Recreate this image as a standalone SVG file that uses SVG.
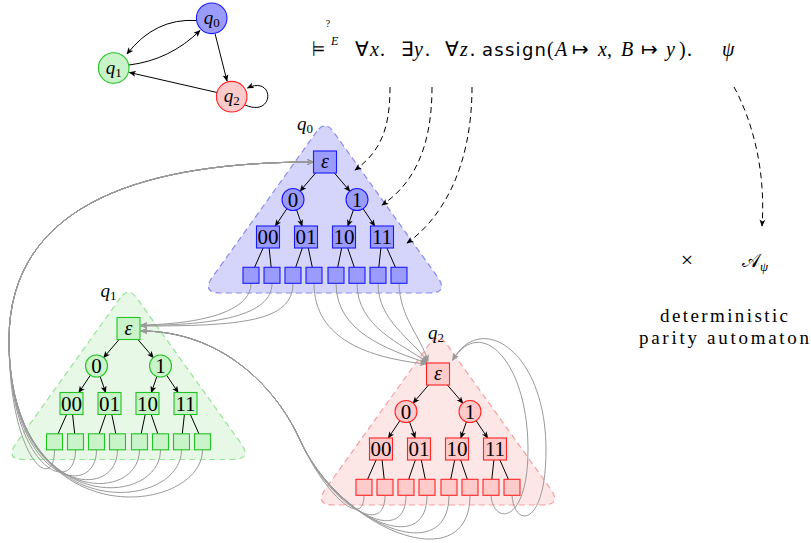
<svg xmlns="http://www.w3.org/2000/svg" width="811" height="543" viewBox="0 0 811 543">
<style>
text{font-family:"Liberation Serif","DejaVu Sans",serif;fill:#000}
.it{font-style:italic}
.lbl{font-size:21px;text-anchor:middle}
.eps{font-size:20px;font-style:italic;text-anchor:middle}
.ql{font-size:19px}
.tb{fill:#d5d5fb;stroke:#8b8bf0;stroke-width:1.2;stroke-dasharray:6 4}
.tg{fill:#e7f8e7;stroke:#98e498;stroke-width:1.2;stroke-dasharray:6 4}
.tr{fill:#fde6e6;stroke:#f7a0a0;stroke-width:1.2;stroke-dasharray:6 4}
.nb{fill:#9b9bfb;stroke:#1a1aff;stroke-width:1.1}
.ng{fill:#c9f3c9;stroke:#22c422;stroke-width:1.1}
.nr{fill:#ffcaca;stroke:#ff2424;stroke-width:1.1}
.edge{fill:none;stroke:#000;stroke-width:1;marker-end:url(#ah)}
.plain{fill:none;stroke:#000;stroke-width:1}
.gray{fill:none;stroke:#999;stroke-width:1;marker-end:url(#ahg)}
.dash{fill:none;stroke:#000;stroke-width:1;stroke-dasharray:6 4;marker-end:url(#ah)}
</style>
<defs>
<marker id="ah" viewBox="0 0 10 10" refX="9" refY="5" markerWidth="7" markerHeight="7" markerUnits="userSpaceOnUse" orient="auto"><path d="M0,0.8 L10,5 L0,9.2 L2.5,5 Z" fill="#000"/></marker>
<marker id="ahg" viewBox="0 0 10 10" refX="9" refY="5" markerWidth="7" markerHeight="7" markerUnits="userSpaceOnUse" orient="auto"><path d="M0,0.8 L10,5 L0,9.2 L2.5,5 Z" fill="#999"/></marker>
</defs>

<!-- regions -->
<g id="region-q0" transform="translate(325,162)">
<path class="tb" d="M -8.16,-30.62 L -112.35,114.74 Q -124,131 -104,131 L 104,131 Q 124,131 112.35,114.74 L 8.16,-30.62 Q 0,-42 -8.16,-30.62 Z"/>
<text class="ql" x="-28" y="-32"><tspan class="it">q</tspan><tspan font-size="13" dy="3">0</tspan></text>
</g>
<g id="region-q1" transform="translate(128.5,328.5)">
<path class="tg" d="M -8.16,-30.62 L -112.35,114.74 Q -124,131 -104,131 L 104,131 Q 124,131 112.35,114.74 L 8.16,-30.62 Q 0,-42 -8.16,-30.62 Z"/>
<text class="ql" x="-28" y="-32"><tspan class="it">q</tspan><tspan font-size="13" dy="3">1</tspan></text>
</g>
<g id="region-q2" transform="translate(438,374)">
<path class="tr" d="M -8.16,-30.62 L -112.35,114.74 Q -124,131 -104,131 L 104,131 Q 124,131 112.35,114.74 L 8.16,-30.62 Q 0,-42 -8.16,-30.62 Z"/>
<text class="ql" x="-10" y="-35"><tspan class="it">q</tspan><tspan font-size="13" dy="3">2</tspan></text>
</g>

<!-- connectors -->
<g id="connectors">
<path class="edge" d="M 196,20.5 Q 155,18 127,54"/>
<path class="edge" d="M 129,65 Q 170,60 200,30.5"/>
<path class="edge" d="M 215,33.5 L 227,81"/>
<path class="edge" d="M 217,92.5 L 129.5,72.5"/>
<path class="edge" d="M 245,105 C 275,118 275,75 247.5,88"/>
<path class="dash" d="M 390,87 C 390,130 380,152 355,170"/>
<path class="dash" d="M 432,87 C 432,150 412,185 382,205"/>
<path class="dash" d="M 472,87 C 472,170 440,220 407,243"/>
<path class="dash" d="M 734,87 C 752,120 766,170 762,226"/>
<g transform="translate(325,162)">
<path class="edge" d="M -9.4,11 L -24.9,29.1"/><path class="edge" d="M 9.4,11 L 24.9,29.1"/>
<path class="edge" d="M -38.1,46.7 L -49.7,64"/><path class="edge" d="M -28.4,47.9 L -22.8,64"/>
<path class="edge" d="M 28.4,47.9 L 22.8,64"/><path class="edge" d="M 38.1,46.7 L 49.7,64"/>
<path class="plain" d="M -61.9,86 L -70.4,105.3 M -55.9,86 L -53.8,105.3 M -22.7,86 L -29.3,105.3 M -16.7,86 L -12.7,105.3 M 16.7,86 L 12.7,105.3 M 22.7,86 L 29.3,105.3 M 55.9,86 L 53.8,105.3 M 61.9,86 L 70.4,105.3"/>
</g>
<g transform="translate(128.5,328.5)">
<path class="edge" d="M -9.4,11 L -24.9,29.1"/><path class="edge" d="M 9.4,11 L 24.9,29.1"/>
<path class="edge" d="M -38.1,46.7 L -49.7,64"/><path class="edge" d="M -28.4,47.9 L -22.8,64"/>
<path class="edge" d="M 28.4,47.9 L 22.8,64"/><path class="edge" d="M 38.1,46.7 L 49.7,64"/>
<path class="plain" d="M -61.9,86 L -70.4,105.3 M -55.9,86 L -53.8,105.3 M -22.7,86 L -29.3,105.3 M -16.7,86 L -12.7,105.3 M 16.7,86 L 12.7,105.3 M 22.7,86 L 29.3,105.3 M 55.9,86 L 53.8,105.3 M 61.9,86 L 70.4,105.3"/>
</g>
<g transform="translate(438,374)">
<path class="edge" d="M -9.4,11 L -24.9,29.1"/><path class="edge" d="M 9.4,11 L 24.9,29.1"/>
<path class="edge" d="M -38.1,46.7 L -49.7,64"/><path class="edge" d="M -28.4,47.9 L -22.8,64"/>
<path class="edge" d="M 28.4,47.9 L 22.8,64"/><path class="edge" d="M 38.1,46.7 L 49.7,64"/>
<path class="plain" d="M -61.9,86 L -70.4,105.3 M -55.9,86 L -53.8,105.3 M -22.7,86 L -29.3,105.3 M -16.7,86 L -12.7,105.3 M 16.7,86 L 12.7,105.3 M 22.7,86 L 29.3,105.3 M 55.9,86 L 53.8,105.3 M 61.9,86 L 70.4,105.3"/>
</g>
<path class="gray" d="M 251,283.3 C 251,312 200,324 141,325"/>
<path class="gray" d="M 272,283.3 C 272,316 215,325 141,325.5"/>
<path class="gray" d="M 293,283.3 C 293,322 240,326 141,326"/>
<path class="gray" d="M 314,283.3 C 314,340 370,358 426,364"/>
<path class="gray" d="M 336,283.3 C 336,333 390,350 426.5,363"/>
<path class="gray" d="M 357,283.3 C 357,327 402,344 427,362"/>
<path class="gray" d="M 378,283.3 C 378,321 412,339 427.5,361.5"/>
<path class="gray" d="M 399,283.3 C 400,318 420,335 428,361"/>
<path class="gray" d="M 54.5,449.8 C 54.5,495 9,460 9,340 C 9,200 150,162 313.5,162"/>
<path class="gray" d="M 75.5,449.8 C 75.5,498 9,471 9,340 C 9,200 150,162 313.5,162"/>
<path class="gray" d="M 96.5,449.8 C 96.5,501 9,483 9,340 C 9,200 150,162 313.5,162"/>
<path class="gray" d="M 117.5,449.8 C 117.5,504 9,494 9,340 C 9,200 150,162 313.5,162"/>
<path class="gray" d="M 139.5,449.8 C 139.5,506 9,506 9,340 C 9,200 150,162 313.5,162"/>
<path class="gray" d="M 160.5,449.8 C 160.5,509 9,517 9,340 C 9,200 150,162 313.5,162"/>
<path class="gray" d="M 181.5,449.8 C 181.5,512 9,529 9,340 C 9,200 150,162 313.5,162"/>
<path class="gray" d="M 202.5,449.8 C 202.5,515 9,540 9,340 C 9,200 150,162 313.5,162"/>
<path class="gray" d="M 364,495.3 C 364,530 324.8,494.7 300,440 C 275,385 220,331 141,331"/>
<path class="gray" d="M 385,495.3 C 385,540 328.2,501.9 300,440 C 275,385 220,331 141,331"/>
<path class="gray" d="M 406,495.3 C 406,550 331.5,509.2 300,440 C 275,385 220,331 141,331"/>
<path class="gray" d="M 427,495.3 C 427,560 334.8,516.5 300,440 C 275,385 220,331 141,331"/>
<path class="gray" d="M 449,495.3 C 449,570 338.1,523.8 300,440 C 275,385 220,331 141,331"/>
<path class="gray" d="M 470,495.3 C 470,580 341.4,531.1 300,440 C 275,385 220,331 141,331"/>
<path class="gray" d="M 491,495.3 C 493,525 528,525 528,450 C 528,360 480,315 453,360"/>
<path class="gray" d="M 512,495.3 C 514,528 546,528 546,450 C 546,350 480,310 452.5,360.5"/>
</g>

<!-- automaton nodes -->
<g id="aut-q0"><circle cx="211.7" cy="18.3" r="15.3" class="nb"/><text class="ql" x="211.7" y="24" text-anchor="middle"><tspan class="it">q</tspan><tspan font-size="13" dy="3">0</tspan></text></g>
<g id="aut-q1"><circle cx="113.7" cy="68" r="15.3" class="ng"/><text class="ql" x="113.7" y="73.5" text-anchor="middle"><tspan class="it">q</tspan><tspan font-size="13" dy="3">1</tspan></text></g>
<g id="aut-q2"><circle cx="231.7" cy="96.7" r="15.3" class="nr"/><text class="ql" x="231.7" y="102" text-anchor="middle"><tspan class="it">q</tspan><tspan font-size="13" dy="3">2</tspan></text></g>

<!-- tree q0 nodes -->
<g id="tree-q0" transform="translate(325,162)">
<g id="q0-eps"><rect x="-11.5" y="-11" width="23" height="22" class="nb"/><text class="eps" x="0" y="6">ε</text></g>
<g id="q0-0"><circle cx="-32" cy="37.5" r="11" class="nb"/><text class="lbl" x="-32" y="44.5">0</text></g>
<g id="q0-1"><circle cx="32" cy="37.5" r="11" class="nb"/><text class="lbl" x="32" y="44.5">1</text></g>
<g id="q0-00"><rect x="-68.5" y="64" width="23" height="22" class="nb"/><text class="lbl" x="-57" y="82">00</text></g>
<g id="q0-01"><rect x="-30.5" y="64" width="23" height="22" class="nb"/><text class="lbl" x="-19" y="82">01</text></g>
<g id="q0-10"><rect x="7.5" y="64" width="23" height="22" class="nb"/><text class="lbl" x="19" y="82">10</text></g>
<g id="q0-11"><rect x="45.5" y="64" width="23" height="22" class="nb"/><text class="lbl" x="57" y="82">11</text></g>
<g id="q0-000"><rect x="-82" y="105.3" width="16" height="16" class="nb"/></g>
<g id="q0-001"><rect x="-61" y="105.3" width="16" height="16" class="nb"/></g>
<g id="q0-010"><rect x="-40" y="105.3" width="16" height="16" class="nb"/></g>
<g id="q0-011"><rect x="-19" y="105.3" width="16" height="16" class="nb"/></g>
<g id="q0-100"><rect x="3" y="105.3" width="16" height="16" class="nb"/></g>
<g id="q0-101"><rect x="24" y="105.3" width="16" height="16" class="nb"/></g>
<g id="q0-110"><rect x="45" y="105.3" width="16" height="16" class="nb"/></g>
<g id="q0-111"><rect x="66" y="105.3" width="16" height="16" class="nb"/></g>
</g>

<!-- tree q1 nodes -->
<g id="tree-q1" transform="translate(128.5,328.5)">
<g id="q1-eps"><rect x="-11.5" y="-11" width="23" height="22" class="ng"/><text class="eps" x="0" y="6">ε</text></g>
<g id="q1-0"><circle cx="-32" cy="37.5" r="11" class="ng"/><text class="lbl" x="-32" y="44.5">0</text></g>
<g id="q1-1"><circle cx="32" cy="37.5" r="11" class="ng"/><text class="lbl" x="32" y="44.5">1</text></g>
<g id="q1-00"><rect x="-68.5" y="64" width="23" height="22" class="ng"/><text class="lbl" x="-57" y="82">00</text></g>
<g id="q1-01"><rect x="-30.5" y="64" width="23" height="22" class="ng"/><text class="lbl" x="-19" y="82">01</text></g>
<g id="q1-10"><rect x="7.5" y="64" width="23" height="22" class="ng"/><text class="lbl" x="19" y="82">10</text></g>
<g id="q1-11"><rect x="45.5" y="64" width="23" height="22" class="ng"/><text class="lbl" x="57" y="82">11</text></g>
<g id="q1-000"><rect x="-82" y="105.3" width="16" height="16" class="ng"/></g>
<g id="q1-001"><rect x="-61" y="105.3" width="16" height="16" class="ng"/></g>
<g id="q1-010"><rect x="-40" y="105.3" width="16" height="16" class="ng"/></g>
<g id="q1-011"><rect x="-19" y="105.3" width="16" height="16" class="ng"/></g>
<g id="q1-100"><rect x="3" y="105.3" width="16" height="16" class="ng"/></g>
<g id="q1-101"><rect x="24" y="105.3" width="16" height="16" class="ng"/></g>
<g id="q1-110"><rect x="45" y="105.3" width="16" height="16" class="ng"/></g>
<g id="q1-111"><rect x="66" y="105.3" width="16" height="16" class="ng"/></g>
</g>

<!-- tree q2 nodes -->
<g id="tree-q2" transform="translate(438,374)">
<g id="q2-eps"><rect x="-11.5" y="-11" width="23" height="22" class="nr"/><text class="eps" x="0" y="6">ε</text></g>
<g id="q2-0"><circle cx="-32" cy="37.5" r="11" class="nr"/><text class="lbl" x="-32" y="44.5">0</text></g>
<g id="q2-1"><circle cx="32" cy="37.5" r="11" class="nr"/><text class="lbl" x="32" y="44.5">1</text></g>
<g id="q2-00"><rect x="-68.5" y="64" width="23" height="22" class="nr"/><text class="lbl" x="-57" y="82">00</text></g>
<g id="q2-01"><rect x="-30.5" y="64" width="23" height="22" class="nr"/><text class="lbl" x="-19" y="82">01</text></g>
<g id="q2-10"><rect x="7.5" y="64" width="23" height="22" class="nr"/><text class="lbl" x="19" y="82">10</text></g>
<g id="q2-11"><rect x="45.5" y="64" width="23" height="22" class="nr"/><text class="lbl" x="57" y="82">11</text></g>
<g id="q2-000"><rect x="-82" y="105.3" width="16" height="16" class="nr"/></g>
<g id="q2-001"><rect x="-61" y="105.3" width="16" height="16" class="nr"/></g>
<g id="q2-010"><rect x="-40" y="105.3" width="16" height="16" class="nr"/></g>
<g id="q2-011"><rect x="-19" y="105.3" width="16" height="16" class="nr"/></g>
<g id="q2-100"><rect x="3" y="105.3" width="16" height="16" class="nr"/></g>
<g id="q2-101"><rect x="24" y="105.3" width="16" height="16" class="nr"/></g>
<g id="q2-110"><rect x="45" y="105.3" width="16" height="16" class="nr"/></g>
<g id="q2-111"><rect x="66" y="105.3" width="16" height="16" class="nr"/></g>
</g>

<!-- formula -->
<g id="formula">
<text x="328" y="27" font-size="10" text-anchor="middle">?</text>
<text x="312" y="56" font-size="21" textLength="13" lengthAdjust="spacingAndGlyphs">⊨</text>
<text x="331" y="45" font-size="12" class="it">E</text>
<text y="56" font-size="20"><tspan x="355">∀</tspan><tspan x="370" class="it">x</tspan><tspan x="380">.</tspan><tspan x="401">∃</tspan><tspan x="414" class="it">y</tspan><tspan x="425">.</tspan><tspan x="445">∀</tspan><tspan x="460" class="it">z</tspan><tspan x="470">.</tspan></text>
<text x="482" y="56" font-size="18" textLength="64" style="font-family:'DejaVu Sans',sans-serif">assign</text>
<text y="56" font-size="20"><tspan x="547">(</tspan><tspan x="555" class="it">A</tspan><tspan x="572">↦</tspan><tspan x="598" class="it">x</tspan><tspan x="607">,</tspan><tspan x="621" class="it">B</tspan><tspan x="641">↦</tspan><tspan x="666" class="it">y</tspan><tspan x="679">)</tspan><tspan x="687">.</tspan><tspan x="722" class="it">ψ</tspan></text>
</g>

<g id="automaton-label">
<text x="687" y="267" font-size="22" text-anchor="middle">×</text>
<text x="742" y="267" font-size="19">𝒜<tspan font-size="13" dy="4" class="it">ψ</tspan></text>
<text x="660" y="322" font-size="19" textLength="128">deterministic</text>
<text x="639" y="344" font-size="19" textLength="170">parity automaton</text>
</g>
</svg>
